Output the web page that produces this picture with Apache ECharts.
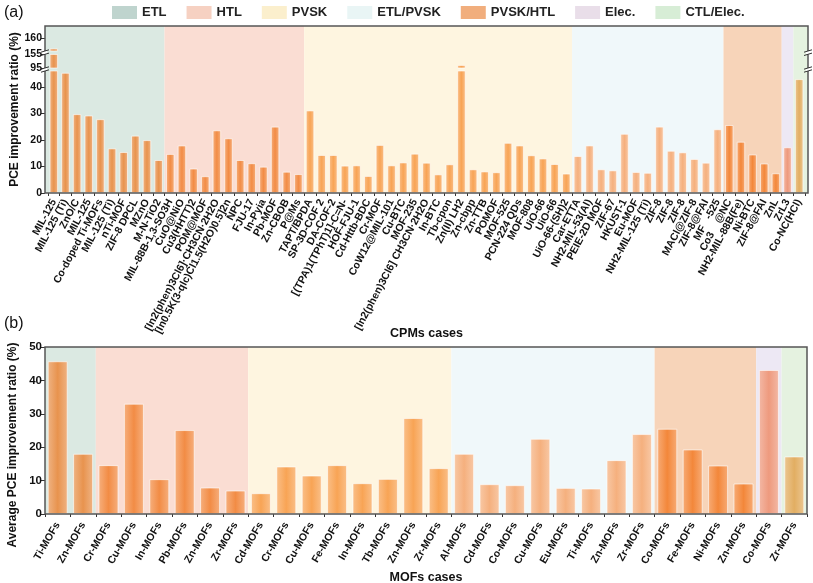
<!DOCTYPE html>
<html><head><meta charset="utf-8">
<script src="https://cdn.jsdelivr.net/npm/echarts@6.0.0/dist/echarts.min.js"></script>
<style>html,body{margin:0;padding:0;background:#fff}#c{width:813px;height:583px}</style>
</head><body><div id="c"></div>
<script>
// ---------------- DATA ----------------
const bandNames = ['ETL','HTL','PVSK','ETL/PVSK','PVSK/HTL','Elec.','CTL/Elec.'];

const casesA = ['MIL-125','MIL-125 (Ti)','ZnO/C','MIL-125','Co-doped Ti-MOFs','MIL-125 (Ti)','nTi-MOF','ZIF-8 DPCL','MZnO','M-N-TiO2',
 'MIL-88B-1,3-SO3H','CuO@NiO','Cu3(HHTT)2','POM@MOF','[In2(phen)3Cl6]·CH3CN·2H2O','[In0.5K(3-qlc)Cl1.5(H2O)0.5]2n','NPC','FJU-17','In-Pyia','Pb-MOF',
 'Zn-CBOB','P@Ms','TAPT/BPDA','SP-3D-COF 2','DA-COF-2','[(TPA)1(TPhT)1]-C=N-','HOF-FJU-1','Cd-Httb-BDC','Cr-MOF','CoW12@MIL-101',
 'Cu-BTC','MOF-235','[In2(phen)3Cl6] CH3CN·2H2O','In-BTC','Tb-cpon','Zn(II) LH2','Zn-cbpp','Zn-TTB','POMOF','MOF-525',
 'PCN-224 QDs','MOF-808','UiO-66','UiO-66','UiO-66-(SH)2','Car-ETTA','NH2-MIL-53(Al)','PEIE-2D MOF','ZIF-67','HKUST-1',
 'Eu-MOF','NH2-MIL-125 (Ti)','ZIF-8','ZIF-8','ZIF-8','MACl@ZIF-8','ZIF-8@FAI','MF   -525','Co3    @NC','NH2-MIL-88B(Fe)',
 'Ni-BTC','ZIF-8@FAI','ZnL','ZrL3','Co-NC(HCl)'];

const valuesA = [156,45.3,29.7,29.2,27.8,16.8,15.4,21.6,19.9,12.4,
 14.7,17.9,9.2,6.3,23.6,20.6,12.4,11.2,9.9,25.0,
 8.0,7.1,31.1,14.3,14.3,10.3,10.4,6.4,18.1,10.4,
 11.5,14.8,11.4,7.0,10.8,108,8.9,8.1,7.8,18.9,
 17.9,14.2,13.0,10.9,7.3,13.9,17.9,8.9,8.5,22.3,
 7.9,7.6,25.0,15.9,15.3,12.8,11.4,24.0,25.6,19.3,
 14.5,11.1,7.4,17.2,42.9];

// first category index of each band (panel a)
const bandStartA = [0,10,22,45,58,63,64];

const yTicksA1 = [0,10,20,30,40];
const yTicksA2 = [95,155];
const yTicksA3 = [160];

const casesB = ['Ti-MOFs','Zn-MOFs','Cr-MOFs','Cu-MOFs','In-MOFs','Pb-MOFs','Zn-MOFs','Zr-MOFs',
 'Cd-MOFs','Cr-MOFs','Cu-MOFs','Fe-MOFs','In-MOFs','Tb-MOFs','Zn-MOFs','Zr-MOFs',
 'Al-MOFs','Cd-MOFs','Co-MOFs','Cu-MOFs','Eu-MOFs','Ti-MOFs','Zn-MOFs','Zr-MOFs',
 'Co-MOFs','Fe-MOFs','Ni-MOFs','Zn-MOFs','Co-MOFs','Zr-MOFs'];
const valuesB = [45.7,18.0,14.6,33.0,10.4,25.1,7.9,7.0,
 6.2,14.2,11.5,14.6,9.2,10.5,28.7,13.7,
 18.0,8.9,8.6,22.5,7.8,7.6,16.1,23.9,
 25.5,19.3,14.5,9.1,43.1,17.2];
const bandStartB = [0,2,8,16,24,28,29];
const yTicksB = [0,10,20,30,40,50];

// ---------------- STYLE ----------------
const legendColors = ['#AFC9C2','#F4C6B3','#FAEBC0','#E3F3F3','#EE9A5C','#E3D6E3','#CDE8CC'];
const bandColors  = ['#DBE9E2','#FADDD3','#FEF5E0','#F0F8FA','#F7D4B9','#EDE8F4','#E5F2E0'];
const barColors   = ['#E8934E','#F28C45','#F8A455','#F5B07E','#F3873A','#EE9A7E','#E2AE62'];
const FONT = 'Liberation Sans, Arial, sans-serif';

function hex2rgb(h){h=h.replace('#','');return [0,2,4].map(i=>parseInt(h.substr(i,2),16));}
function mix(c,w,t){const a=hex2rgb(c),b=hex2rgb(w);return 'rgb('+a.map((v,i)=>Math.round(v*(1-t)+b[i]*t)).join(',')+')';}
function grad(c){return {type:'linear',x:0,y:0,x2:1,y2:0,colorStops:[
  {offset:0,color:mix(c,'#ffffff',0.3)},{offset:0.5,color:c},{offset:1,color:mix(c,'#ffffff',0.3)}]};}
function bandOf(i,starts){let b=0;for(let j=0;j<starts.length;j++) if(starts[j]<=i) b=j;return b;}

// layout
const AL=45, AR=808, AT=26, AB=193, PADX=3;
const seg3=[26,51], seg2=[54.3,68], seg1=[71,193];
const BL=45, BT=347, BW=762, BH=167;
const catW = (AR-AL-2*PADX)/casesA.length;
const padCat = PADX/catW;

function bandSeries(starts, n, xi, yi, minX, maxX){
  return bandNames.map((nm,j)=>{
    const s = j===0?minX:starts[j];
    const e = j===bandNames.length-1?maxX:starts[j+1];
    return {type:'scatter',name:nm,xAxisIndex:xi,yAxisIndex:yi,data:[],z:1,silent:true,
      itemStyle:{color:legendColors[j]},
      markArea:{silent:true,itemStyle:{color:bandColors[j],borderWidth:0},data:[[{xAxis:s},{xAxis:e}]]}};
  });
}
const barDataA = valuesA.map((v,i)=>({value:v,itemStyle:{color:grad(barColors[bandOf(i,bandStartA)])}}));
const barDataB = valuesB.map((v,i)=>({value:v,itemStyle:{color:grad(barColors[bandOf(i,bandStartB)])}}));

const barBase = {type:'bar',z:3,barCategoryGap:'28%',clip:true,silent:true,
  itemStyle:{borderColor:'rgba(255,255,255,0.75)',borderWidth:0.8}};

const yLab = {fontFamily:FONT,fontWeight:'bold',fontSize:10.5,color:'#111',margin:3};
function segY(gi,min,max,ticks){
  return {type:'value',gridIndex:gi,min:min,max:max,offset:PADX,
    axisLine:{show:false},splitLine:{show:false},
    axisTick:{show:true,inside:false,length:4,customValues:ticks,lineStyle:{color:'#333'}},
    axisLabel:Object.assign({customValues:ticks},yLab)};
}

// decorations
const graphics = [
  {type:'text',left:4,top:5,style:{text:'(a)',font:'16px '+FONT,fill:'#111'}},
  {type:'text',left:4,top:316,style:{text:'(b)',font:'16px '+FONT,fill:'#111'}},
  {type:'text',x:12.5,y:445,rotation:Math.PI/2,style:{text:'Average PCE improvement ratio (%)',
    font:'bold 12px '+FONT,fill:'#111',align:'center',verticalAlign:'middle'}}
];
[[seg3[1],seg2[0]],[seg2[1],seg1[0]]].forEach(([y0,y1])=>{
  [AL,AR].forEach(x=>{
    graphics.push({type:'rect',shape:{x:x-2,y:y0,width:4,height:y1-y0},style:{fill:'#fff'},z:20});
    graphics.push({type:'line',shape:{x1:x-4,y1:y0+1.2,x2:x+4,y2:y0-1.2},style:{stroke:'#333',lineWidth:1},z:21});
    graphics.push({type:'line',shape:{x1:x-4,y1:y1+1.2,x2:x+4,y2:y1-1.2},style:{stroke:'#333',lineWidth:1},z:21});
  });
});

const gridBase = {outerBoundsMode:'none',containLabel:false};
const option = {
  animation:false,
  backgroundColor:'#fff',
  textStyle:{fontFamily:FONT},
  legend:{data:bandNames,top:1,left:107,icon:'rect',itemWidth:25,itemHeight:13,itemGap:20,selectedMode:false,
    textStyle:{fontFamily:FONT,fontWeight:'bold',fontSize:13,color:'#222'}},
  graphic:graphics,
  grid:[
    Object.assign({left:AL,top:AT,width:AR-AL,height:AB-AT,show:true,borderColor:'#555',borderWidth:1.5,backgroundColor:'transparent',z:10},gridBase),
    Object.assign({left:AL+PADX,top:seg1[0],width:AR-AL-2*PADX,height:seg1[1]-seg1[0]},gridBase),
    Object.assign({left:AL+PADX,top:seg2[0],width:AR-AL-2*PADX,height:seg2[1]-seg2[0]},gridBase),
    Object.assign({left:AL+PADX,top:seg3[0],width:AR-AL-2*PADX,height:seg3[1]-seg3[0]},gridBase),
    Object.assign({left:BL,top:BT,width:BW,height:BH,show:true,borderColor:'#555',borderWidth:1.5,backgroundColor:'transparent',z:10},gridBase)
  ],
  xAxis:[
    {type:'value',gridIndex:0,min:-padCat,max:casesA.length+padCat,show:false},
    {type:'category',gridIndex:1,data:casesA,axisLine:{show:false},
      axisTick:{show:true,length:3,lineStyle:{color:'#333'}},
      axisLabel:{interval:0,rotate:62,fontFamily:FONT,fontWeight:'bold',fontSize:10.5,color:'#111',margin:7},
      name:'CPMs cases',nameLocation:'middle',nameGap:134,nameMoveOverlap:false,
      nameTextStyle:{fontFamily:FONT,fontWeight:'bold',fontSize:12.5,color:'#111'}},
    {type:'category',gridIndex:2,data:casesA,show:false},
    {type:'category',gridIndex:3,data:casesA,show:false},
    {type:'category',gridIndex:4,data:casesB,axisLine:{show:false},
      axisTick:{show:true,length:3,lineStyle:{color:'#333'}},
      axisLabel:{interval:0,rotate:60,fontFamily:FONT,fontWeight:'bold',fontSize:10.5,color:'#111',margin:9},
      name:'MOFs cases',nameLocation:'middle',nameGap:57,nameMoveOverlap:false,
      nameTextStyle:{fontFamily:FONT,fontWeight:'bold',fontSize:12.5,color:'#111'}},
    {type:'value',gridIndex:4,min:0,max:casesB.length,show:false}
  ],
  yAxis:[
    {type:'value',gridIndex:0,min:0,max:1,axisLine:{show:false},axisTick:{show:false},axisLabel:{show:false},splitLine:{show:false},
      name:'PCE improvement ratio (%)',nameLocation:'middle',nameGap:24,nameMoveOverlap:false,
      nameTextStyle:{fontFamily:FONT,fontWeight:'bold',fontSize:12,color:'#111'}},
    segY(1,0,46,yTicksA1),
    segY(2,95,155,yTicksA2),
    segY(3,155,165,yTicksA3),
    {type:'value',gridIndex:4,min:0,max:50,interval:10,axisLine:{show:false},splitLine:{show:false},
      axisTick:{show:true,length:4,customValues:yTicksB,lineStyle:{color:'#333'}},
      axisLabel:{customValues:yTicksB,fontFamily:FONT,fontWeight:'bold',fontSize:11.5,color:'#111',margin:3}}
  ],
  series:[].concat(
    bandSeries(bandStartA,casesA.length,0,0,-padCat,casesA.length+padCat),
    bandSeries(bandStartB,casesB.length,5,4,0,casesB.length),
    [
      Object.assign({},barBase,{name:'a1',xAxisIndex:1,yAxisIndex:1,data:barDataA}),
      Object.assign({},barBase,{name:'a2',xAxisIndex:2,yAxisIndex:2,data:barDataA}),
      Object.assign({},barBase,{name:'a3',xAxisIndex:3,yAxisIndex:3,data:barDataA}),
      Object.assign({},barBase,{name:'b',xAxisIndex:4,yAxisIndex:4,data:barDataB,barCategoryGap:'22%'})
    ])
};
const chart = echarts.init(document.getElementById('c'));
chart.setOption(option);
</script></body></html>
